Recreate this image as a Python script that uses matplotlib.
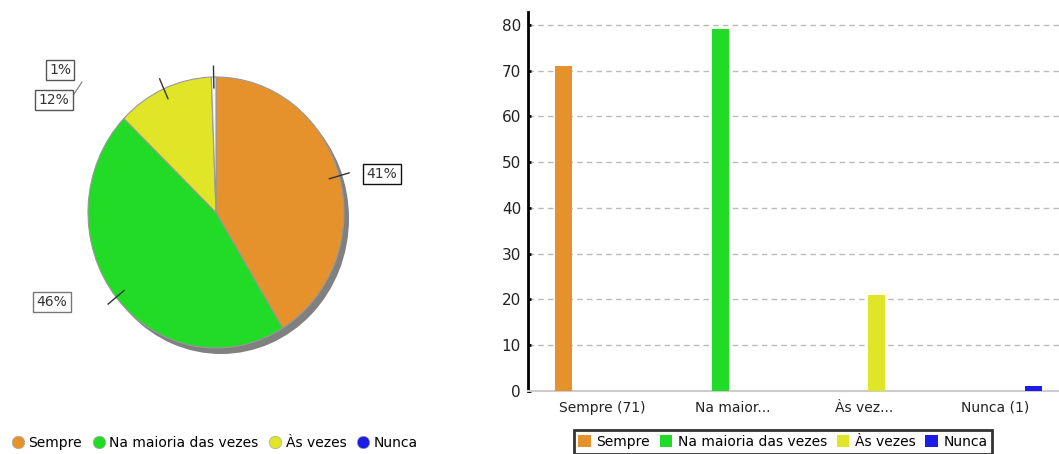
import numpy as np
import matplotlib
matplotlib.use('Agg')
import matplotlib.pyplot as plt
from matplotlib.lines import Line2D
from matplotlib.patches import Patch

# data
categories = ['Sempre', 'Na maioria das vezes', 'Às vezes', 'Nunca']
counts = [71, 79, 21, 1]
tick_labels = ['Sempre (71)', 'Na maior...', 'Às vez...', 'Nunca (1)']
pct_labels = ['41%', '46%', '12%', '1%']
colors = ['#e5922c', '#21db27', '#e0e627', '#1c1ce6']
pie_colors = ['#e5922c', '#21db27', '#e0e627', '#f4f4f4']

W, H = 1059, 454
fig = plt.figure(figsize=(W / 100, H / 100), dpi=100)

# ---- pie (left), data units ~ pixels, y stretched a bit
ky = 135.5 / 128
ax_pie = fig.add_axes([0, 0, 0.47, 1])

def px(x, y):
    return x, (H - y) / ky

cx, cy = px(216, 212.5)
R = 128
# shadow
ax_pie.pie([1], colors=['#808080'], radius=R, center=(cx + 5, cy - 6 / ky),
           startangle=90, wedgeprops=dict(linewidth=0))
wedges, _ = ax_pie.pie(counts, colors=pie_colors, radius=R, center=(cx, cy),
                       startangle=90, counterclock=False,
                       wedgeprops=dict(edgecolor='#999999', linewidth=0.8))
ax_pie.set_aspect('auto')
ax_pie.set_xlim(0, 0.47 * W)
ax_pie.set_ylim(0, H / ky)
ax_pie.axis('off')

label_pos = [(382, 174), (52, 302), (54, 100), (60, 70)]
edge_cols = ['#111111', '#777777', '#555555', '#555555']
for w, lab, pos, ec in zip(wedges, pct_labels, label_pos, edge_cols):
    a = np.deg2rad((w.theta1 + w.theta2) / 2)
    r0, r1 = 0.92 * R, 1.08 * R
    ax_pie.plot([cx + r0 * np.cos(a), cx + r1 * np.cos(a)],
                [cy + r0 * np.sin(a), cy + r1 * np.sin(a)],
                color='#333333', lw=1, zorder=5)
    ax_pie.text(*px(*pos), lab, ha='center', va='center', fontsize=10,
                color='#333333', zorder=6,
                bbox=dict(boxstyle='square,pad=0.25', fc='white', ec=ec, lw=1))
# connector of the 12% box
ax_pie.plot(*zip(px(72, 97), px(82, 82)), color='#777777', lw=0.8)

pie_handles = [Line2D([], [], marker='o', ls='', markersize=9, markerfacecolor=c,
                      markeredgecolor='#aaaaaa', markeredgewidth=0.5) for c in colors]
fig.legend(pie_handles, categories, loc='center left', bbox_to_anchor=(0.004, 1 - 443 / H),
           ncol=4, frameon=False, fontsize=10, handletextpad=0.15, columnspacing=0.6,
           borderaxespad=0, handlelength=1.2)

# ---- bars (right)
ax = fig.add_axes([528 / W, (H - 391) / H, (W - 528) / W, (391 - 12) / H])
slot = 0.196
for i, (v, c) in enumerate(zip(counts, colors)):
    ax.bar(i + (i - 1.5) * slot, v, width=0.13, color=c, zorder=3)

ax.set_xlim(-0.565, 3.49)
ax.set_ylim(0, 82.8)
ax.set_yticks(range(0, 81, 10))
ax.set_xticks(range(4))
ax.set_xticklabels(tick_labels, fontsize=10, color='#222222')
ax.tick_params(axis='x', length=0, pad=7)
ax.tick_params(axis='y', direction='in', length=2, width=2, labelsize=11,
               labelcolor='#222222', pad=5)
ax.yaxis.grid(True, linestyle=(0, (4, 3)), color='#bbbbbb', lw=1, zorder=0)
ax.spines['top'].set_visible(False)
ax.spines['right'].set_visible(False)
ax.spines['left'].set_linewidth(2)
ax.spines['left'].set_color('black')
ax.spines['bottom'].set_linewidth(1.5)
ax.spines['bottom'].set_color('#cccccc')

bar_handles = [Patch(facecolor=c) for c in colors]
leg = fig.legend(bar_handles, categories, loc='upper center',
                 bbox_to_anchor=(783 / W, 1 - 430 / H), ncol=4, fontsize=10,
                 handlelength=0.9, handleheight=0.9, handletextpad=0.4,
                 columnspacing=0.7, fancybox=False, borderpad=0.35,
                 borderaxespad=0)
leg.get_frame().set_edgecolor('black')
leg.get_frame().set_linewidth(2)

fig.savefig('out.png', dpi=100)
